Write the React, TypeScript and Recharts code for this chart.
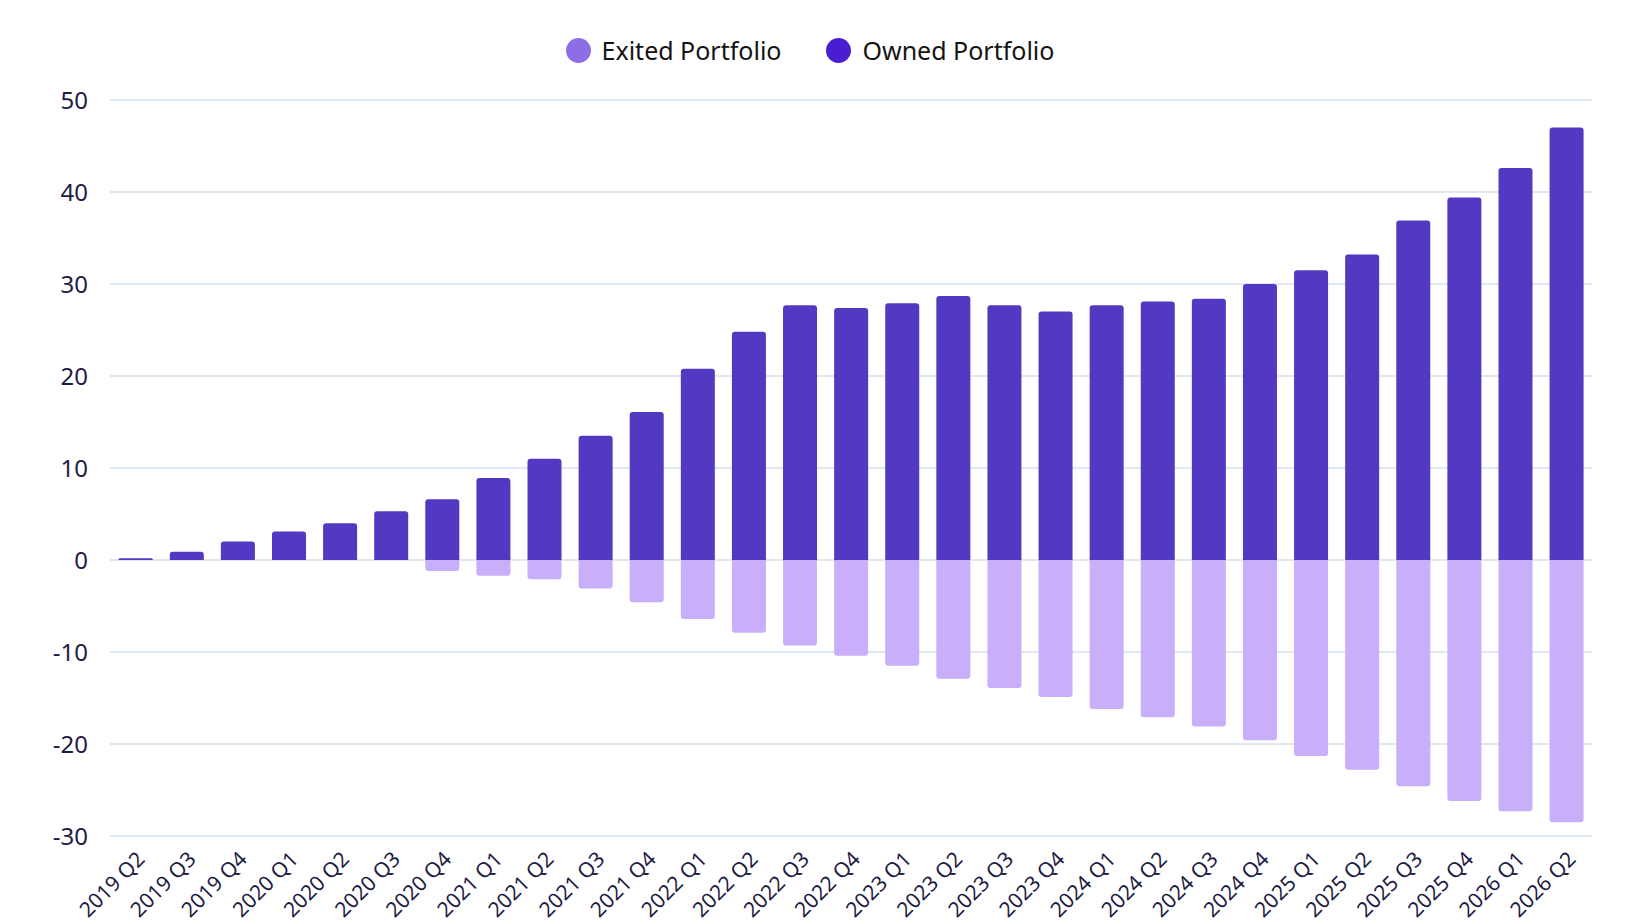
import React from 'react';
import { BarChart, Bar, XAxis, YAxis, CartesianGrid, Legend } from 'recharts';

const quarters = [
  '2019 Q2', '2019 Q3', '2019 Q4',
  '2020 Q1', '2020 Q2', '2020 Q3', '2020 Q4',
  '2021 Q1', '2021 Q2', '2021 Q3', '2021 Q4',
  '2022 Q1', '2022 Q2', '2022 Q3', '2022 Q4',
  '2023 Q1', '2023 Q2', '2023 Q3', '2023 Q4',
  '2024 Q1', '2024 Q2', '2024 Q3', '2024 Q4',
  '2025 Q1', '2025 Q2', '2025 Q3', '2025 Q4',
  '2026 Q1', '2026 Q2',
];

const ownedPortfolio = [
  0.2, 0.9, 2.0,
  3.1, 4.0, 5.3, 6.6,
  8.9, 11.0, 13.5, 16.1,
  20.8, 24.8, 27.7, 27.4,
  27.9, 28.7, 27.7, 27.0,
  27.7, 28.1, 28.4, 30.0,
  31.5, 33.2, 36.9, 39.4,
  42.6, 47.0,
];

const exitedPortfolio = [
  0, 0, 0,
  0, 0, 0, -1.2,
  -1.7, -2.1, -3.1, -4.6,
  -6.4, -7.9, -9.3, -10.4,
  -11.5, -12.9, -13.9, -14.9,
  -16.2, -17.1, -18.1, -19.6,
  -21.3, -22.8, -24.6, -26.2,
  -27.3, -28.5,
];

const yTicks = [-30, -20, -10, 0, 10, 20, 30, 40, 50];

const legendItems = [
  { name: 'Exited Portfolio', color: '#8d6ee5' },
  { name: 'Owned Portfolio', color: '#4b1dd1' },
];

const data = quarters.map((quarter, i) => ({
  quarter,
  exited: exitedPortfolio[i],
  owned: ownedPortfolio[i],
}));

const axisText = '#1e1c45';

const renderLegend = () => (
  <div
    style={{
      height: 69,
      display: 'flex',
      justifyContent: 'center',
      alignItems: 'flex-start',
      paddingRight: 20,
      boxSizing: 'border-box',
    }}
  >
    {legendItems.map((item, i) => (
      <div
        key={item.name}
        style={{
          display: 'flex',
          alignItems: 'center',
          height: 38,
          marginLeft: i === 0 ? 0 : 45,
        }}
      >
        <span
          style={{
            width: 25,
            height: 25,
            borderRadius: '50%',
            background: item.color,
            display: 'inline-block',
            marginRight: 11,
          }}
        />
        <span style={{ fontSize: 25, color: '#141414' }}>{item.name}</span>
      </div>
    ))}
  </div>
);

export default function App() {
  return (
    <div style={{ position: 'absolute', left: 0, top: 0, background: '#fff' }}>
      <BarChart
        width={1640}
        height={924}
        data={data}
        stackOffset="sign"
        barCategoryGap="17%"
        margin={{ top: 31, right: 48, bottom: 8, left: 0 }}
        style={{ fontFamily: '"Noto Sans", sans-serif' }}
      >
        <Legend
          verticalAlign="top"
          content={renderLegend}
          wrapperStyle={{ left: 0, width: 1640 }}
        />
        <CartesianGrid vertical={false} stroke="#d6e0ec" strokeWidth={1.5} />
        <XAxis
          dataKey="quarter"
          interval={0}
          height={80}
          axisLine={false}
          tickLine={false}
          tickMargin={8}
          tick={{ angle: -45, textAnchor: 'end', fontSize: 21, fill: axisText }}
        />
        <YAxis
          width={110}
          domain={[-30, 50]}
          ticks={yTicks}
          axisLine={false}
          tickLine={false}
          tickMargin={16}
          tick={{ fontSize: 24, fill: axisText }}
        />
        <Bar
          dataKey="exited"
          name="Exited Portfolio"
          stackId="portfolio"
          fill="#c9aef9"
          radius={[3, 3, 0, 0]}
          isAnimationActive={false}
        />
        <Bar
          dataKey="owned"
          name="Owned Portfolio"
          stackId="portfolio"
          fill="#5338c2"
          radius={[3, 3, 0, 0]}
          isAnimationActive={false}
        />
      </BarChart>
    </div>
  );
}
